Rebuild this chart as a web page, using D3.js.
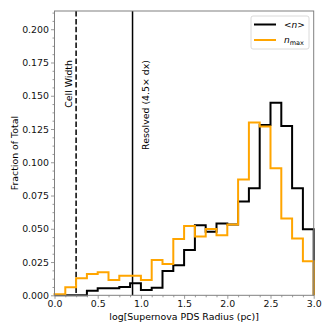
<!DOCTYPE html>
<html>
<head>
<meta charset="utf-8">
<script src="https://cdn.jsdelivr.net/npm/d3@7"></script>
<style>
  body { margin: 0; background: #fff; }
  svg { font-family: "DejaVu Sans", sans-serif; }
</style>
</head>
<body>
<div id="chart"></div>
<script>
// bin edges: 0 .. 3 in steps of 0.125
const binEdges = d3.range(0, 25).map(i => i * 0.125);
// fraction of total per bin, <n>
const meanN = [0, 0, 0, 0.0035, 0.0053, 0.0053, 0.0062, 0.009, 0.004, 0.0057, 0.0183, 0.0225,
  0.034, 0.0527, 0.0477, 0.054, 0.0533, 0.0706, 0.0804, 0.128, 0.1448, 0.1273, 0.0804, 0.0496];
// fraction of total per bin, n_max
const maxN = [0.0008, 0.006, 0.0128, 0.016, 0.0173, 0.0115, 0.0147, 0.0147, 0.0115, 0.0265, 0.0236, 0.0424,
  0.052, 0.0442, 0.0499, 0.0452, 0.0533, 0.087, 0.1298, 0.1268, 0.0955, 0.0577, 0.0427, 0.0256];
const xTicks = [0.0, 0.5, 1.0, 1.5, 2.0, 2.5, 3.0];
const yTicks = [0.000, 0.025, 0.050, 0.075, 0.100, 0.125, 0.150, 0.175, 0.200];
const cellWidth = 0.25;
const resolved = 0.25 + Math.log10(4.5);

const w = 332, h = 332;
const mLeft = 54.5, mRight = 313.7, mTop = 11, mBottom = 295.3;

const svg = d3.select("#chart").append("svg")
  .attr("width", w).attr("height", h);

const x = d3.scaleLinear().domain([0, 3]).range([mLeft, mRight]);
const y = d3.scaleLinear().domain([0, 0.2137]).range([mBottom, mTop]);

const spineColor = "#808080";
const fs = 9.4;

// step path like matplotlib histtype='step'
const stepLine = vals => {
  const pts = [[binEdges[0], 0]];
  vals.forEach((v, i) => {
    pts.push([binEdges[i], v]);
    pts.push([binEdges[i + 1], v]);
  });
  pts.push([binEdges[vals.length], 0]);
  return d3.line().x(d => x(d[0])).y(d => y(d[1]))(pts);
};

const plot = svg.append("g");

// vertical reference lines
plot.append("line")
  .attr("x1", x(cellWidth)).attr("x2", x(cellWidth))
  .attr("y1", mTop).attr("y2", mBottom)
  .attr("stroke", "#000").attr("stroke-width", 1.5)
  .attr("stroke-dasharray", "5.5,2.4");
plot.append("line")
  .attr("x1", x(resolved)).attr("x2", x(resolved))
  .attr("y1", mTop).attr("y2", mBottom)
  .attr("stroke", "#000").attr("stroke-width", 1.5);

plot.append("text")
  .attr("transform", `translate(${x(cellWidth) - 8},60) rotate(-90)`)
  .attr("text-anchor", "end")
  .attr("dominant-baseline", "central")
  .attr("font-size", fs)
  .text("Cell Width");
plot.append("text")
  .attr("transform", `translate(${x(resolved) + 12.5},60) rotate(-90)`)
  .attr("text-anchor", "end")
  .attr("dominant-baseline", "central")
  .attr("font-size", fs)
  .text("Resolved (4.5\u00d7 dx)");

// histograms
plot.append("path")
  .attr("d", stepLine(meanN))
  .attr("fill", "none").attr("stroke", "#000").attr("stroke-width", 2)
  .attr("stroke-linejoin", "miter");
plot.append("path")
  .attr("d", stepLine(maxN))
  .attr("fill", "none").attr("stroke", "orange").attr("stroke-width", 2)
  .attr("stroke-linejoin", "miter");

// axes
const xAxis = svg.append("g").attr("transform", `translate(0,${mBottom})`)
  .call(d3.axisBottom(x).tickValues(xTicks).tickFormat(d3.format(".1f")).tickSize(3.5).tickPadding(2));
const xMinor = svg.append("g").attr("transform", `translate(0,${mBottom})`)
  .call(d3.axisBottom(x).tickValues(d3.range(0, 3.001, 0.125).filter(v => Math.abs(v * 2 - Math.round(v * 2)) > 1e-6)).tickFormat("").tickSize(2));
const yAxis = svg.append("g").attr("transform", `translate(${mLeft},0)`)
  .call(d3.axisLeft(y).tickValues(yTicks).tickFormat(d3.format(".3f")).tickSize(3.5).tickPadding(2));
const yMinor = svg.append("g").attr("transform", `translate(${mLeft},0)`)
  .call(d3.axisLeft(y).tickValues(d3.range(0, 0.2137, 0.00625).filter((v, i) => i % 4 !== 0)).tickFormat("").tickSize(2));

[xAxis, xMinor, yAxis, yMinor].forEach(g => {
  g.select(".domain").remove();
  g.selectAll("line").attr("stroke", spineColor).attr("stroke-width", 0.8);
  g.selectAll("text").attr("font-size", fs).attr("font-family", "DejaVu Sans").attr("fill", "#111");
});

// spines
svg.append("rect")
  .attr("x", mLeft).attr("y", mTop)
  .attr("width", mRight - mLeft).attr("height", mBottom - mTop)
  .attr("fill", "none").attr("stroke", spineColor).attr("stroke-width", 1);

// axis labels
svg.append("text")
  .attr("x", (mLeft + mRight) / 2).attr("y", 319.5)
  .attr("text-anchor", "middle").attr("font-size", fs)
  .text("log[Supernova PDS Radius (pc)]");
svg.append("text")
  .attr("transform", `translate(14,${(mTop + mBottom) / 2}) rotate(-90)`)
  .attr("text-anchor", "middle").attr("dominant-baseline", "central")
  .attr("font-size", fs)
  .text("Fraction of Total");

// legend
const legend = svg.append("g").attr("transform", "translate(251,16)");
legend.append("rect")
  .attr("width", 58).attr("height", 33).attr("rx", 2)
  .attr("fill", "#fff").attr("fill-opacity", 0.8)
  .attr("stroke", "#d0d0d0").attr("stroke-width", 0.8);
const entries = [
  { color: "#000", key: "mean" },
  { color: "orange", key: "max" }
];
entries.forEach((e, i) => {
  const yy = 8.5 + i * 15.5;
  legend.append("line")
    .attr("x1", 3).attr("x2", 25).attr("y1", yy).attr("y2", yy)
    .attr("stroke", e.color).attr("stroke-width", 2);
  const t = legend.append("text")
    .attr("x", 33).attr("y", yy + 3.3)
    .attr("font-size", 9);
  if (e.key === "mean") {
    t.append("tspan").text("<");
    t.append("tspan").attr("font-style", "italic").text("n");
    t.append("tspan").text(">");
  } else {
    t.append("tspan").attr("font-style", "italic").text("n");
    t.append("tspan").attr("font-size", 6.5).attr("dy", 1.5).text("max");
  }
});
</script>
</body>
</html>
